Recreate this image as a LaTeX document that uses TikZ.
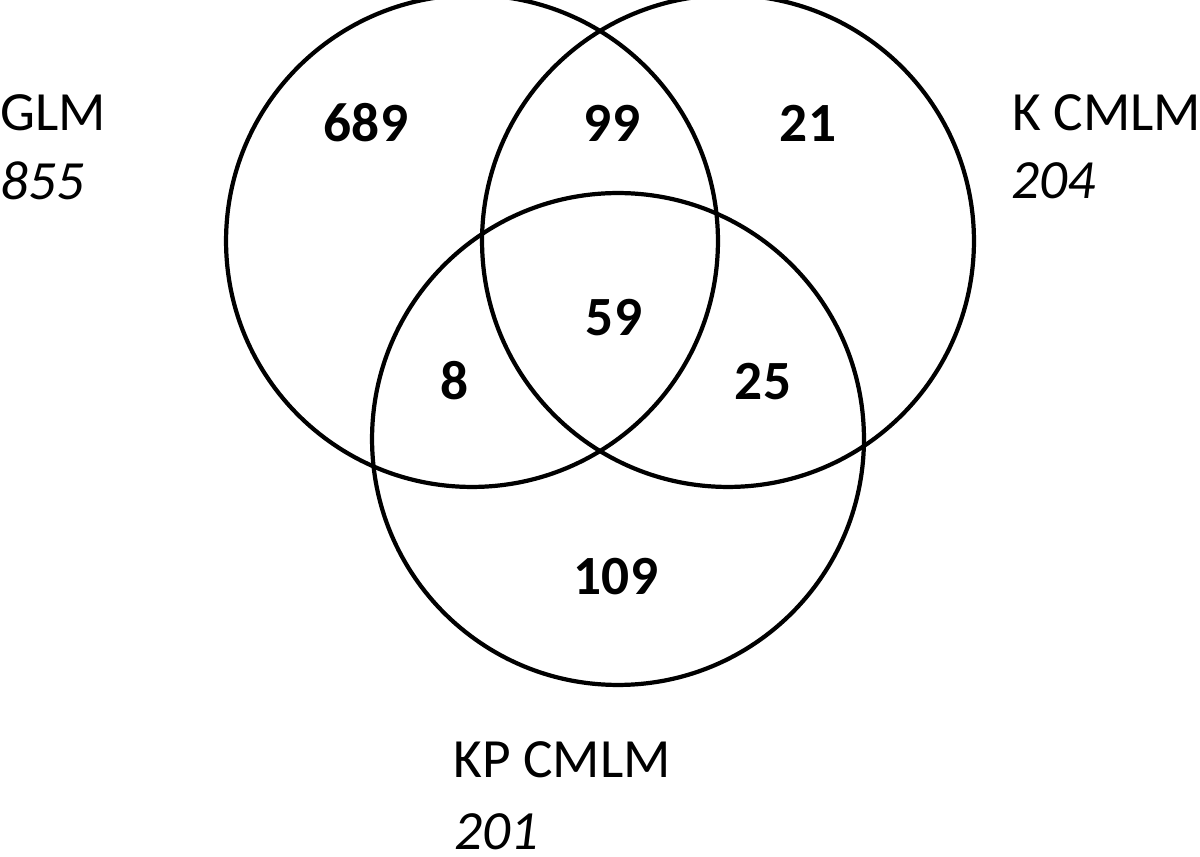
\documentclass[tikz,border=0pt]{standalone}
\usepackage{fontspec}
\setmainfont{Carlito}
\begin{document}
\begin{tikzpicture}[x=0.02cm,y=-0.02cm,
  setcircle/.style={draw=black,line width=2.4pt,circle,minimum size=9.84cm,inner sep=0pt},
  setname/.style={anchor=base west,inner sep=0pt,font=\fontsize{31.5}{38}\selectfont},
  setsize/.style={anchor=base west,inner sep=0pt,font=\fontsize{31.5}{38}\selectfont\itshape},
  count/.style={anchor=base,inner sep=0pt,font=\fontsize{31.5}{38}\selectfont\bfseries}]
\useasboundingbox (0,0) rectangle (1200,857);
\node[setcircle] (glm) at (472,241) {};
\node[setcircle] (kc) at (728,241) {};
\node[setcircle] (kp) at (618,439) {};
\node[setname] (glmname) at (0,131) {GLM};
\node[setsize] (glmsize) at (0,200) {855};
\node[setname] (kcname) at (1012,131) {K CMLM};
\node[setsize] (kcsize) at (1011,199) {204};
\node[setname] (kpname) at (453,777) {KP CMLM};
\node[setsize] (kpsize) at (454,849) {201};
\node[count] (n1) at (366,142) {689};
\node[count] (n2) at (612,142) {99};
\node[count] (n3) at (808,142) {21};
\node[count] (n4) at (614,336) {59};
\node[count] (n5) at (455,400) {8};
\node[count] (n6) at (763,400) {25};
\node[count] (n7) at (616,595) {109};
\end{tikzpicture}
\end{document}
